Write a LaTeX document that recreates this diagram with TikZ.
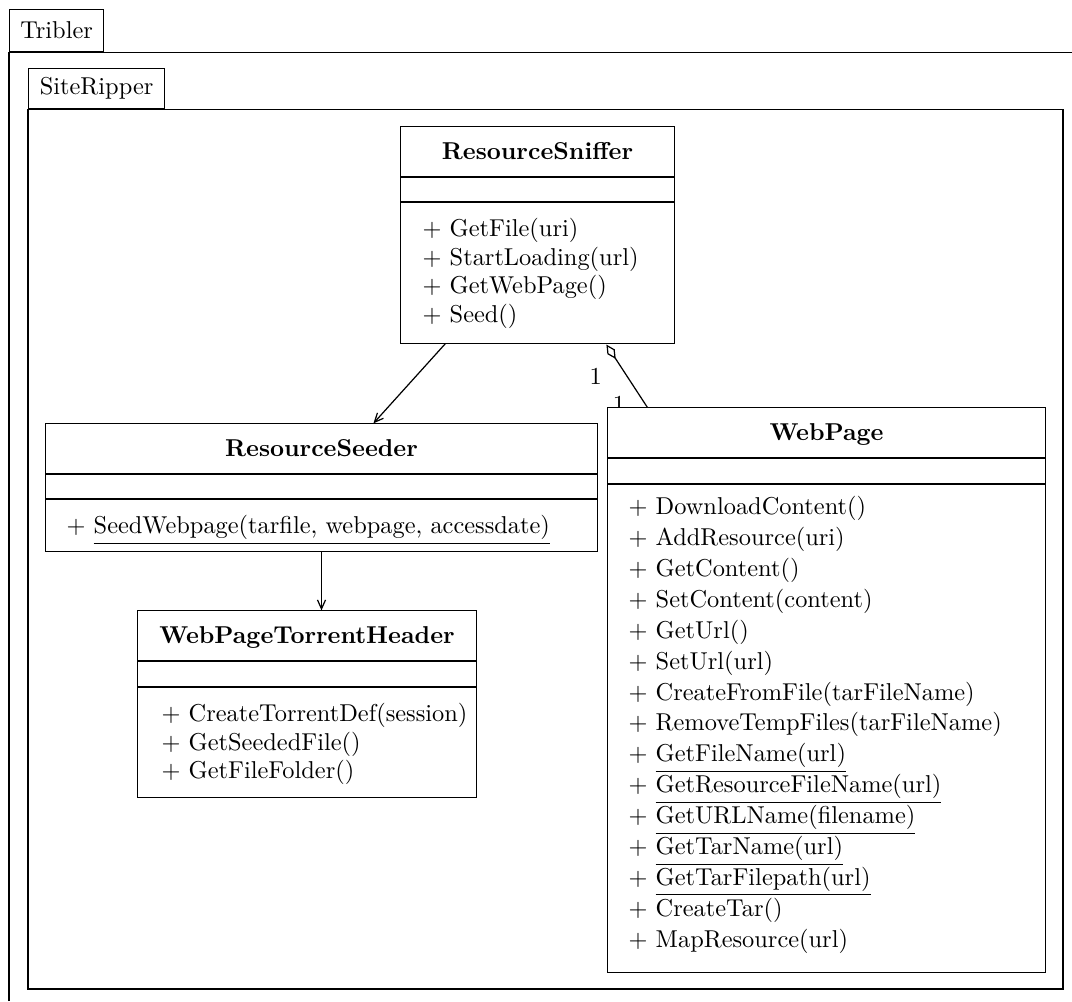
\documentclass[tikz,border=0pt]{standalone}
\usetikzlibrary{arrows.meta,fit,calc}
\begin{document}
\begin{tikzpicture}[x=0.41pt,y=-0.41pt,line width=0.5pt,
  every node/.style={font=\fontsize{10}{11.7}\selectfont},
  classname/.style={font=\fontsize{10}{11.7}\selectfont\bfseries, anchor=base, inner sep=0pt},
  ops/.style={align=left, anchor=north west, inner sep=0pt},
  pkgtab/.style={draw, inner sep=0pt, anchor=north west},
  assoc/.style={-{Straight Barb[length=3.7pt,width=3.3pt]}},
  aggr/.style={{Diamond[open,length=7pt,width=3.6pt]}-},
  mult/.style={inner sep=0pt}]
\useasboundingbox (0,0) rectangle (1072,1001);
\clip (0,0) rectangle (1072,1001);

% package frames
\node[pkgtab, minimum width=94*0.41pt, minimum height=42*0.41pt] (tribtab) at (9,9) {Tribler};
\draw (tribtab.south west |- 0,1001) -- (tribtab.south west) -- (tribtab.south west -| 1072,0);
\node[pkgtab, minimum width=136*0.41pt, minimum height=40*0.41pt] (riptab) at (28,68) {SiteRipper};
\draw (riptab.south west) rectangle (1063,989);

% class outlines (positions only; connectors use their borders)
\path (401,127) coordinate (snA) (674,343) coordinate (snB)
      (46,424) coordinate (seA) (597,551) coordinate (seB)
      (138,611) coordinate (thA) (476,797) coordinate (thB)
      (608,408) coordinate (wpA) (1045,972) coordinate (wpB);
\node[fit=(snA)(snB), inner sep=0pt] (sniffer) {};
\node[fit=(seA)(seB), inner sep=0pt] (seeder) {};
\node[fit=(thA)(thB), inner sep=0pt] (header) {};
\node[fit=(wpA)(wpB), inner sep=0pt] (webpage) {};

% relations
\draw[assoc] ($(sniffer.south west)+(45,0)$) -- ($(seeder.north west)+(328,0)$);
\draw[assoc] (seeder.south) -- (seeder.south |- header.north);
\draw[aggr] ($(sniffer.south west)+(206,1)$) -- ($(webpage.north west)+(40,0)$)
  node[mult, pos=0.5, left=10pt] (m1) {1}
  node[mult, pos=0.95, left=8.1pt] (m2) {1};

% class boxes
\foreach \c in {sniffer,seeder,header,webpage}
  \draw[fill=white] (\c.north west) rectangle (\c.south east);

% ResourceSniffer
\draw (401,177) -- (674,177) (401,202) -- (674,202);
\node[classname] (snname) at (537.5,159.5) {ResourceSniffer};
\node[ops] (snops) at (422,217.7) {$+$ GetFile(uri)\\ $+$ StartLoading(url)\\ $+$ GetWebPage()\\ $+$ Seed()};

% ResourceSeeder
\draw (46,474) -- (597,474) (46,499) -- (597,499);
\node[classname] (sename) at (321.5,456.5) {ResourceSeeder};
\node[ops] (seops) at (66,514.7) {$+$ \underline{SeedWebpage(tarfile, webpage, accessdate)}};

% WebPageTorrentHeader
\draw (138,661) -- (476,661) (138,687) -- (476,687);
\node[classname] (thname) at (307,643.5) {WebPageTorrentHeader};
\node[ops] (thops) at (161,702.7) {$+$ CreateTorrentDef(session)\\ $+$ GetSeededFile()\\ $+$ GetFileFolder()};

% WebPage
\draw (608,458) -- (1045,458) (608,484) -- (1045,484);
\node[classname] (wpname) at (826.5,440.5) {WebPage};
\node[ops, font=\fontsize{10}{12.67}\selectfont] (wpops) at (628,495.7) {$+$ DownloadContent()\\ $+$ AddResource(uri)\\ $+$ GetContent()\\
  $+$ SetContent(content)\\ $+$ GetUrl()\\ $+$ SetUrl(url)\\ $+$ CreateFromFile(tarFileName)\\
  $+$ RemoveTempFiles(tarFileName)\\ $+$ \underline{GetFileName(url)}\\ $+$ \underline{GetResourceFileName(url)}\\
  $+$ \underline{GetURLName(filename)}\\ $+$ \underline{GetTarName(url)}\\ $+$ \underline{GetTarFilepath(url)}\\
  $+$ CreateTar()\\ $+$ MapResource(url)};
\end{tikzpicture}
\end{document}
